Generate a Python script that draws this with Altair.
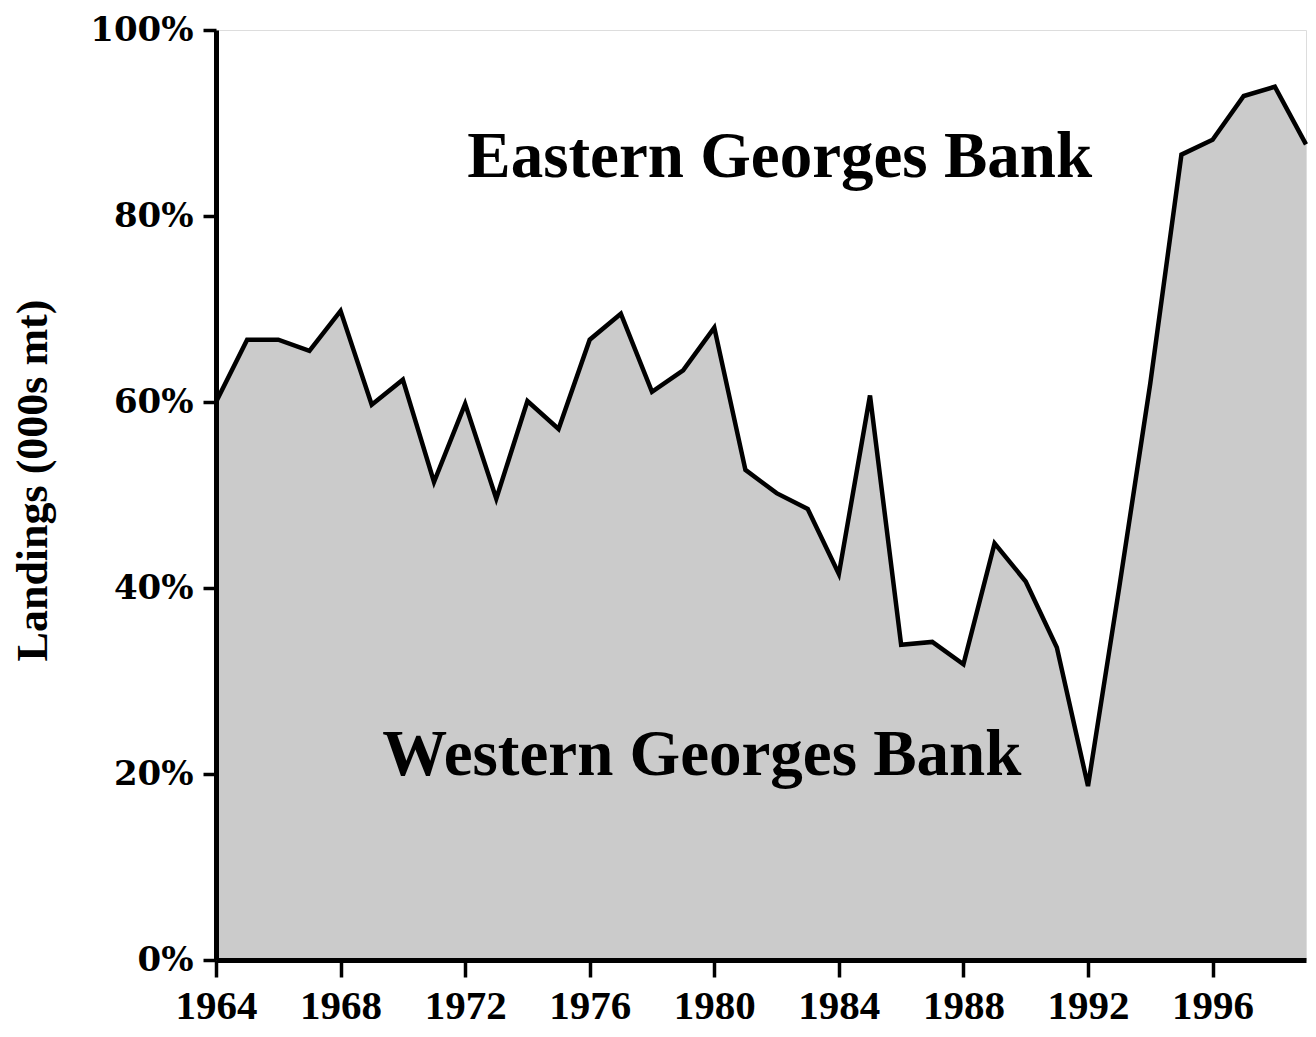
import altair as alt
import pandas as pd

years = list(range(1964, 2000))
western_pct = [60.0, 66.7, 66.7, 65.5, 69.8, 59.7, 62.4, 51.4, 59.8, 49.6,
               60.1, 57.1, 66.7, 69.5, 61.1, 63.4, 68.0, 52.7, 50.2, 48.5,
               41.5, 60.7, 33.9, 34.2, 31.8, 44.8, 40.7, 33.6, 18.7, 40.0,
               62.0, 86.6, 88.2, 92.9, 93.9, 87.7]
x_ticks = [1964, 1968, 1972, 1976, 1980, 1984, 1988, 1992, 1996]
y_ticks = [0, 20, 40, 60, 80, 100]
labels = ["Eastern Georges Bank", "Western Georges Bank"]
label_x = [1982.1, 1979.6]
label_y = [84.2, 19.9]

df = pd.DataFrame({"year": years, "pct": western_pct})
lab = pd.DataFrame({"text": labels, "x": label_x, "y": label_y})

xscale = alt.Scale(domain=[1964, 1999], nice=False, zero=False)
yscale = alt.Scale(domain=[0, 100], nice=False)

xaxis = alt.Axis(values=x_ticks, format="d", grid=False, zindex=1,
                 labelFont="Liberation Serif", labelFontSize=41, labelFontWeight="bold",
                 labelColor="black", labelPadding=9, labelFlush=False, labelOverlap=False,
                 tickSize=17, tickWidth=3.5, tickColor="black",
                 domainWidth=5, domainColor="black", title=None)
yaxis = alt.Axis(values=y_ticks, labelExpr="datum.value + '%'", grid=False, zindex=1,
                 labelFont="DejaVu Serif", labelFontSize=34, labelFontWeight="bold",
                 labelColor="black", labelPadding=10, labelFlush=False, labelOverlap=False,
                 tickSize=13, tickWidth=3.5, tickColor="black",
                 domainWidth=5, domainColor="black",
                 title="Landings (000s mt)", titleFont="Liberation Serif",
                 titleFontSize=44, titleFontWeight="bold", titleColor="black",
                 titleX=-183, titleY=450, titleAngle=270, titleAlign="center",
                 titleBaseline="middle")

base = alt.Chart(df)
area = base.mark_area(color="#cbcbcb", opacity=1).encode(
    x=alt.X("year:Q", scale=xscale, axis=xaxis),
    y=alt.Y("pct:Q", scale=yscale, axis=yaxis),
)
line = base.mark_line(color="black", strokeWidth=4.5, strokeJoin="miter").encode(
    x=alt.X("year:Q", scale=xscale),
    y=alt.Y("pct:Q", scale=yscale),
)
text = alt.Chart(lab).mark_text(font="Liberation Serif", fontSize=65, fontWeight="bold",
                                color="black", align="center", baseline="alphabetic").encode(
    x=alt.X("x:Q", scale=xscale),
    y=alt.Y("y:Q", scale=yscale),
    text="text:N",
)

chart = alt.layer(area, line, text).properties(
    width=1090, height=930,
    padding={"left": 208, "top": 22, "right": 2, "bottom": 68},
    autosize=alt.AutoSizeParams(type="none"),
).configure_view(stroke="black", strokeWidth=2.5).configure(background="white")

chart.save("out.html", embed_options={"renderer": "svg", "actions": False})
